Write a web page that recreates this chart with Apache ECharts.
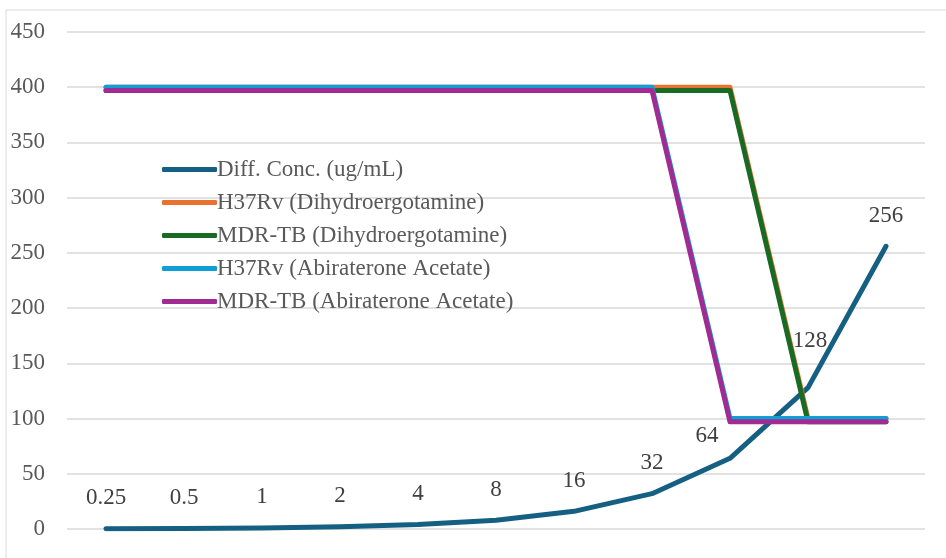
<!DOCTYPE html>
<html><head><meta charset="utf-8">
<script src="https://cdn.jsdelivr.net/npm/echarts@6/dist/echarts.min.js"></script>
<style>html,body{margin:0;padding:0;background:#fff}#c{width:946px;height:558px}</style>
</head><body><div id="c"></div>
<script>
const categories = ['0.25','0.5','1','2','4','8','16','32','64','128','256'];
const diffConc = [0.25,0.5,1,2,4,8,16,32,64,128,256];
const h37rvDihydro = [400,400,400,400,400,400,400,400,400,100,100];
const mdrDihydro = [397,397,397,397,397,397,397,397,397,97,97];
const h37rvAbir = [400,400,400,400,400,400,400,400,100,100,100];
const mdrAbir = [397,397,397,397,397,397,397,397,97,97,97];
const yTicks = {min:0, max:450, interval:50};
const seriesNames = ['Diff. Conc. (ug/mL)','H37Rv (Dihydroergotamine)','MDR-TB (Dihydroergotamine)','H37Rv (Abiraterone Acetate)','MDR-TB (Abiraterone Acetate)'];
const colors = ['#156082','#E97132','#196B24','#0F9ED5','#A02B93'];

const font = '"Liberation Serif","Times New Roman",serif';
const labelOffsets = {8:[-23,8], 9:[2,-16]};
const diffData = diffConc.map((v,i)=> labelOffsets[i] ? {value:v, label:{offset:labelOffsets[i]}} : v);

function line(name, data, color, extra){
  return Object.assign({name, type:'line', data, symbol:'none', smooth:false,
    lineStyle:{color, width:5, cap:'round', join:'round'}, itemStyle:{color}}, extra||{});
}
const chart = echarts.init(document.getElementById('c'), null, {renderer:'canvas'});
chart.setOption({
  animation:false,
  color: colors,
  graphic:[{type:'rect', shape:{x:6,y:10,width:960,height:570}, style:{fill:null, stroke:'#d9d9d9', lineWidth:1}, silent:true}],
  grid:{left:67, right:21, top:32, bottom:29},
  legend:{orient:'vertical', left:157, top:153, itemWidth:55, itemHeight:5, itemGap:10, icon:'roundRect',
    textStyle:{fontFamily:font, fontSize:23, color:'#595959', lineHeight:20, padding:[0,0,0,-5]},
    data:seriesNames},
  xAxis:{type:'category', data:categories, boundaryGap:true, axisLine:{show:false}, axisTick:{show:false}, axisLabel:{show:false}},
  yAxis:{type:'value', min:yTicks.min, max:yTicks.max, interval:yTicks.interval,
    axisLine:{show:false}, axisTick:{show:false},
    axisLabel:{fontFamily:font, fontSize:23, color:'#595959', margin:22},
    splitLine:{lineStyle:{color:'#d9d9d9', width:1.5}}},
  series:[
    line(seriesNames[0], diffData, colors[0], {symbol:'circle', symbolSize:0, showSymbol:true,
      label:{show:true, position:'top', distance:19, fontFamily:font, fontSize:23, color:'#404040'}}),
    line(seriesNames[1], h37rvDihydro, colors[1]),
    line(seriesNames[2], mdrDihydro, colors[2]),
    line(seriesNames[3], h37rvAbir, colors[3]),
    line(seriesNames[4], mdrAbir, colors[4])
  ]
});
</script></body></html>
